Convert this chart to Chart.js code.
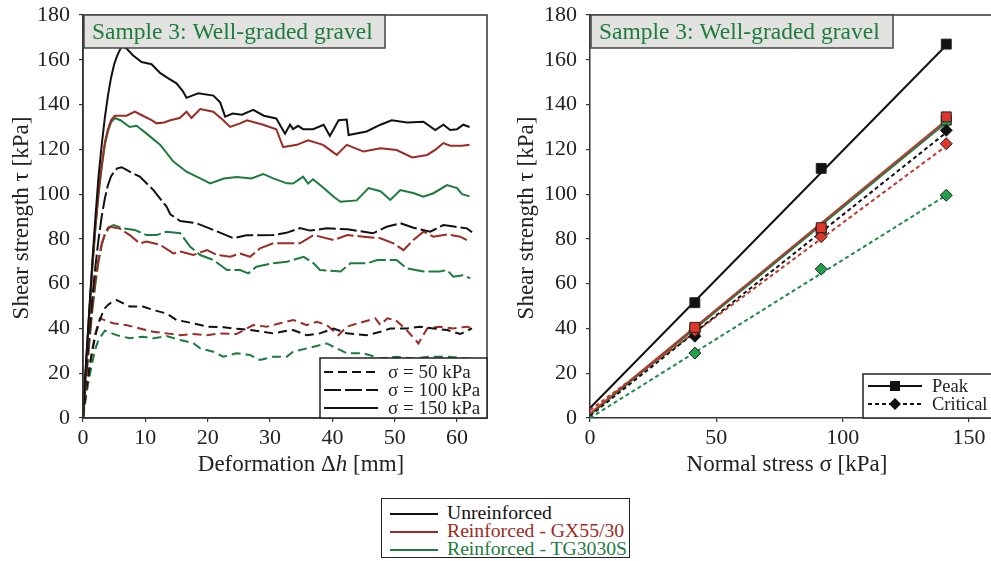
<!DOCTYPE html>
<html>
<head>
<meta charset="utf-8">
<script src="https://cdn.jsdelivr.net/npm/chart.js@4.4.0/dist/chart.umd.min.js"></script>
<style>
  body { margin: 0; background: #fff; width: 991px; height: 561px; overflow: hidden; position: relative; font-family: "Liberation Serif", serif; }
  #left { position: absolute; left: 0; top: 0; }
  #right { position: absolute; left: 500px; top: 0; }
  #legend { position: absolute; left: 381px; top: 498px; width: 249px; height: 60px; border: 1.5px solid #222; font-size: 19.7px; line-height: 18px; padding-top: 4px; box-sizing: border-box; }
  #legend div { height: 18px; white-space: nowrap; }
  #legend span.ln { display: inline-block; width: 48px; height: 2px; margin: 0 9px 0 8px; vertical-align: middle; }
</style>
</head>
<body>
<canvas id="left" width="495" height="490"></canvas>
<canvas id="right" width="491" height="490"></canvas>
<div id="legend">
  <div><span class="ln" style="background:#111"></span><span style="color:#111">Unreinforced</span></div>
  <div><span class="ln" style="background:#9e2a24"></span><span style="color:#9e2a24">Reinforced - GX55/30</span></div>
  <div><span class="ln" style="background:#1e7b3e"></span><span style="color:#1e7b3e">Reinforced - TG3030S</span></div>
</div>
<script>
// ---- left chart: shear strength vs deformation ----
const unr150X = [0,0.5,1,1.5,2,2.5,3,3.5,4,4.5,5,5.5,6.2,7,8,9.4,11,12.4,13.5,15,16,16.6,17.5,18.5,20.9,22,22.8,24,25.5,27.3,29,31,32.4,33.2,33.7,34.5,35.3,36.9,38.6,39.6,41,42.3,42.6,45.5,47.7,49.5,52,54.6,56.5,57.8,58.9,60,61,62];
const unr150Y = [0,25,48,70,90,108,122,134,144,152,158,162,166,165,162,159,158,154,152,149.5,146,143,144,145,144,141,134.6,136,135.5,137.6,135,133.8,127,131,129,130.5,129,129,131,126,133,133.3,126.4,128,131,133,132,132.3,128.6,131,128.6,129,131,130];
const gx150X = [0,0.5,1,1.5,2,2.5,3,3.5,4,4.5,5.1,6,7,8.3,9.6,11,11.8,13,14,15.5,16.6,17.4,18.8,20.9,22.5,23.6,25.2,26.3,28.9,31,32.1,34.3,36.1,38.5,40.7,42.3,45,47.7,50.3,52.8,55.2,56.6,57.8,58.9,60.8,62];
const gx150Y = [0,25,47,68,86,101,113,123,129,133,135,135,135,136.8,135,133,131.6,132,133,134,136.8,134,138,136.8,133,130,131.6,133,131,129,121,122,124,122,117.5,122,119,120.5,119.7,116.4,117.5,120,122.8,121.6,121.6,122];
const tg150X = [0,0.5,1,1.5,2,2.5,3,3.5,4,4.5,5.1,6,7.5,8.6,10.2,12.4,14.5,16.6,18.8,20.4,22.6,24.7,27,28.9,30.5,32.7,33.7,35.3,36.1,36.9,38.6,40.2,41.3,43.9,45.8,47.7,49.3,50.9,53.1,54.6,56.2,58.4,60,60.8,62];
const tg150Y = [0,24,46,67,85,100,112,122,128,132,134,133,130,130.5,127,122,114.5,110,107,104.8,107,107.6,107,109,107,104.8,104.7,107.8,104.7,106.6,102.7,98.8,96.6,97.2,102.7,101.3,97.4,101.8,100.4,98.8,100.4,104,102.7,100,99];

const unr100X = [0,0.5,1,1.5,2,2.5,3,3.5,4,4.5,5,5.5,6.2,7.5,9.1,11.3,13.4,14,15.6,18.2,20.9,24.1,26.2,30.5,32.6,34.8,36.4,39.1,42.4,46.5,48.7,50.9,53,55.7,57.8,59.5,61.6,62.4];
const unr100Y = [0,20,38,54,68,80,90,98,104,108,110,111.5,112,110,107.8,101.8,94.4,91,88,87,84,80.3,81.6,81.7,82.7,84.8,83.7,84.7,84.3,82.5,85.4,87,85,83.2,86.2,85.5,84.7,83];
const gx100X = [0,0.5,1,1.5,2,2.5,3,3.5,4.3,5.9,7.5,9.1,10.2,12.4,14.5,15.6,17.7,19.9,21.5,23.6,25.2,26.8,28.4,30.5,32.6,34.8,37,40.2,42.4,45,47.7,49.8,51.4,53,54.6,56.2,58.4,60.5,62.1];
const gx100Y = [0,18,35,50,62,71,78,82,85.4,84.6,81.7,78,78.8,77.3,73.5,74.3,72.8,75,72.8,72,73.5,72,75.8,78,78,78,81.7,79.5,81.7,81,80.3,78,75,79.5,83.2,81,82,81,78.7];
const tg100X = [0,0.5,1,1.5,2,2.5,3,3.5,4,4.9,6.6,8.3,10.2,11.8,13.4,15.6,17.2,18.8,20.9,23.1,25.2,26.5,27.8,30.5,32.7,33.7,35.4,37,38,41.3,42.9,45.6,47.2,50.3,51.9,54.6,57.2,58.4,59.4,61,62.1];
const tg100Y = [0,17,33,48,60,70,77,82,85,86.2,84.6,84,81.7,81.7,83.2,82.5,76.5,72.8,70.6,66.1,66.1,64.6,67.6,69.1,69.8,70.6,72,69.1,66.1,65.4,69.1,69.1,70.6,70.6,66.9,65.4,65.4,66.1,63.1,63.8,62.4];

const unr50X = [0,0.5,1,1.5,2,2.5,3,3.5,4,4.5,5.4,7.5,9.6,11.3,13.4,15,17.7,19.9,22.6,25.2,26.8,28.9,30.5,32.7,33.7,35.9,38,40.2,42.3,45.5,47.7,49.3,51.9,54,56.2,58.4,60.5,62.4];
const unr50Y = [0,12,22,30,37,42,46,49,50.5,51.5,52.7,49.8,49.8,48.2,46.7,43.8,42.3,40.8,40.5,39.7,39.3,38.5,37.8,39,39.3,37,37.8,40,37.8,37,38.5,40,40,40.8,40,39.3,37.5,40];
const gx50X = [0,0.5,1,1.5,2,2.7,4.8,6.9,9.1,11.3,13.4,15.6,17.7,19.9,22,24.6,27.3,29.5,31.6,33.7,35.9,37.5,39.1,41,42.3,45,46.9,47.7,48.8,50.1,51.9,53.8,55.2,57.2,59.4,61.6,62.4];
const gx50Y = [0,12,22,31,38,44.5,42.3,41.5,40,38.5,37.8,37,37.5,37,37.8,37.5,41.5,40.8,42.3,43.8,41.5,43,41.5,37,40.8,43,44.5,41.5,44.5,43.8,39.3,33.3,40,40.8,40,40.8,40];
const tg50X = [0,0.5,1,1.5,2,2.5,3.5,5.4,7.5,9.6,11.3,13.4,15.6,17.7,18.8,20.9,22.5,24.6,26.8,28.4,30.5,32.7,33.7,35.9,39.1,40.7,42.3,45,47.7,50.3,53,55.7,58.4,61.6,62.4];
const tg50Y = [0,10,18,25,31,35,39,37,35.6,36.3,35.6,36.6,34.8,33.4,31.1,29.6,27.4,28.9,28.1,25.9,27.4,27.4,29.6,31.1,33.3,31.1,28.9,28.9,26.6,27.4,26.6,27.4,27.4,26.6,26.5];

const sigmaLabels = ["σ = 50 kPa", "σ = 100 kPa", "σ = 150 kPa"];

// ---- right chart: failure envelopes ----
const normalStress = [41.5, 91.5, 141];
const peakUnr = [51.5, 111.5, 167];
const critUnr = [36.5, 84.5, 128.5];
const peakGX = [40.5, 85, 134.5];
const critGX = [39, 81, 122.5];
const peakTG = [39.5, 84, 133];
const critTG = [29, 66.5, 99.5];
// fitted envelope ends, read at sigma = 0 and 141
const fitX = [0, 141];
const peakUnrFit = [4.5, 166.5];
const critUnrFit = [1, 127.5];
const peakGXFit = [2, 133];
const critGXFit = [3.5, 121.5];
const peakTGFit = [1.5, 132];
const critTGFit = [0, 99.5];

const BLACK = "#111", RED = "#9e2a24", GREEN = "#1e7b3e";
const RED_MK = "#e0352b", GREEN_MK = "#22a04c";
const DASH50 = [9, 5], DASH100 = [17, 4], DASH_CRIT = [4, 3];
const FONT = '"Liberation Serif", serif';

function pts(xs, ys) { return xs.map((x, i) => ({ x: x, y: ys[i] })); }

function curve(xs, ys, color, dash) {
  return { data: pts(xs, ys), showLine: true, borderColor: color, borderWidth: 2,
    borderDash: dash, pointRadius: 0, tension: 0, fill: false };
}

function markers(ys, color, style, r) {
  return { data: pts(normalStress, ys), showLine: false, pointStyle: style, pointRadius: r,
    pointBackgroundColor: color, pointBorderColor: "#222", pointBorderWidth: 1 };
}

function axis(min, max, step, fitSize, isY, pad) {
  return {
    type: "linear", min: min, max: max,
    border: { color: "#333", width: 1.5 },
    grid: { drawOnChartArea: false, tickLength: 4, color: "#333", lineWidth: 1.2 },
    ticks: { stepSize: step, includeBounds: false, padding: pad, color: "#222", font: { family: FONT, size: 22 } },
    afterFit(scale) {
      if (isY) { scale.width = fitSize; scale.paddingTop = 0; scale.paddingBottom = 0; }
      else { scale.height = fitSize; scale.paddingLeft = 0; scale.paddingRight = 0; }
    }
  };
}

function textBox(ctx, x, y, w, h) {
  ctx.save();
  ctx.fillStyle = "#e2e2e0";
  ctx.fillRect(x, y, w, h);
  ctx.strokeStyle = "#444";
  ctx.lineWidth = 1.5;
  ctx.strokeRect(x, y, w, h);
  ctx.fillStyle = GREEN;
  ctx.font = "23.5px " + FONT;
  ctx.textBaseline = "middle";
  ctx.fillText("Sample 3: Well-graded gravel", x + 8, y + h / 2 + 1);
  ctx.restore();
}

function yTitle(ctx, x, y, text) {
  ctx.save();
  ctx.translate(x, y);
  ctx.rotate(-Math.PI / 2);
  ctx.font = "23px " + FONT;
  ctx.fillStyle = "#222";
  ctx.textAlign = "center";
  ctx.textBaseline = "middle";
  ctx.fillText(text, 0, 0);
  ctx.restore();
}

function xTitle(ctx, cx, y, parts) {
  ctx.save();
  ctx.fillStyle = "#222";
  ctx.textBaseline = "middle";
  let total = 0;
  parts.forEach(p => { ctx.font = (p[1] ? "italic " : "") + "23px " + FONT; total += ctx.measureText(p[0]).width; });
  let x = cx - total / 2;
  parts.forEach(p => {
    ctx.font = (p[1] ? "italic " : "") + "23px " + FONT;
    ctx.fillText(p[0], x, y);
    x += ctx.measureText(p[0]).width;
  });
  ctx.restore();
}

const leftDecor = {
  id: "leftDecor",
  afterDraw(chart) {
    const ctx = chart.ctx, a = chart.chartArea;
    ctx.save();
    ctx.strokeStyle = "#333";
    ctx.lineWidth = 1.5;
    ctx.strokeRect(a.left, a.top, a.right - a.left, a.bottom - a.top);
    ctx.restore();
    textBox(ctx, a.left + 1, a.top, 301, 33);
    // sigma legend
    const bx = 320, by = 358, bw = a.right - 320, bh = a.bottom - 358;
    ctx.save();
    ctx.fillStyle = "#fff";
    ctx.fillRect(bx, by, bw, bh);
    ctx.strokeStyle = "#222";
    ctx.lineWidth = 1.5;
    ctx.strokeRect(bx, by, bw, bh);
    const dashes = [DASH50, DASH100, []];
    sigmaLabels.forEach((lbl, i) => {
      const yy = 372 + i * 18;
      ctx.strokeStyle = BLACK;
      ctx.lineWidth = 2;
      ctx.setLineDash(dashes[i]);
      ctx.beginPath(); ctx.moveTo(324, yy); ctx.lineTo(378, yy); ctx.stroke();
      ctx.setLineDash([]);
      ctx.fillStyle = "#222";
      ctx.font = "19px " + FONT;
      ctx.textBaseline = "middle";
      ctx.fillText(lbl, 388, yy + 1);
    });
    ctx.restore();
    yTitle(ctx, 22, 218, "Shear strength τ [kPa]");
    xTitle(ctx, 301, 465, [["Deformation Δ", false], ["h", true], [" [mm]", false]]);
  }
};

const rightDecor = {
  id: "rightDecor",
  afterDraw(chart) {
    const ctx = chart.ctx, a = chart.chartArea;
    ctx.save();
    ctx.strokeStyle = "#333";
    ctx.lineWidth = 1.5;
    ctx.beginPath(); ctx.moveTo(a.left, a.top); ctx.lineTo(a.right, a.top); ctx.stroke();
    ctx.restore();
    textBox(ctx, a.left + 1, a.top, 302, 33);
    // peak / critical legend
    const bx = 363, by = 374;
    ctx.save();
    ctx.fillStyle = "#fff";
    ctx.fillRect(bx, by, a.right - bx, a.bottom - by);
    ctx.strokeStyle = "#222";
    ctx.lineWidth = 1.5;
    ctx.strokeRect(bx, by, a.right - bx + 2, a.bottom - by);
    [["Peak", [], "rect"], ["Critical", DASH_CRIT, "rectRot"]].forEach((e, i) => {
      const yy = 386 + i * 18;
      ctx.strokeStyle = BLACK;
      ctx.lineWidth = 2;
      ctx.setLineDash(e[1]);
      ctx.beginPath(); ctx.moveTo(368, yy); ctx.lineTo(422, yy); ctx.stroke();
      ctx.setLineDash([]);
      ctx.fillStyle = BLACK;
      ctx.beginPath();
      if (e[2] === "rect") ctx.rect(390, yy - 5, 10, 10);
      else { ctx.moveTo(395, yy - 6); ctx.lineTo(401, yy); ctx.lineTo(395, yy + 6); ctx.lineTo(389, yy); ctx.closePath(); }
      ctx.fill();
      ctx.fillStyle = "#222";
      ctx.font = "18.5px " + FONT;
      ctx.textBaseline = "middle";
      ctx.fillText(e[0], 432, yy + 1);
    });
    ctx.restore();
    yTitle(ctx, 27, 218, "Shear strength τ [kPa]");
    xTitle(ctx, 287, 465, [["Normal stress σ [kPa]", false]]);
  }
};

const common = {
  responsive: false, animation: false,
  plugins: { legend: { display: false }, tooltip: { enabled: false } },
  elements: { line: { tension: 0 } }
};

new Chart(document.getElementById("left"), {
  type: "scatter",
  data: { datasets: [
    curve(unr150X, unr150Y, BLACK, []),
    curve(gx150X, gx150Y, RED, []),
    curve(tg150X, tg150Y, GREEN, []),
    curve(unr100X, unr100Y, BLACK, DASH100),
    curve(gx100X, gx100Y, RED, DASH100),
    curve(tg100X, tg100Y, GREEN, DASH100),
    curve(unr50X, unr50Y, BLACK, DASH50),
    curve(gx50X, gx50Y, RED, DASH50),
    curve(tg50X, tg50Y, GREEN, DASH50)
  ] },
  options: Object.assign({}, common, {
    layout: { autoPadding: false, padding: { left: 0, top: 15, right: 8, bottom: 0 } },
    scales: { x: axis(0, 64.8, 10, 72, false, 3), y: axis(0, 180, 20, 83, true, 9) }
  }),
  plugins: [leftDecor]
});

new Chart(document.getElementById("right"), {
  type: "scatter",
  data: { datasets: [
    markers(peakGX, RED_MK, "rect", 7),
    markers(critGX, RED_MK, "rectRot", 6),
    markers(critUnr, BLACK, "rectRot", 6),
    markers(peakUnr, BLACK, "rect", 7),
    markers(critTG, GREEN_MK, "rectRot", 6),
    markers(peakTG, GREEN_MK, "rect", 7),
    curve(fitX, peakGXFit, "#b03a2e", []),
    curve(fitX, critUnrFit, BLACK, DASH_CRIT),
    curve(fitX, critGXFit, "#c0392b", DASH_CRIT),
    curve(fitX, critTGFit, "#1e8a45", DASH_CRIT),
    curve(fitX, peakUnrFit, BLACK, []),
    curve(fitX, peakTGFit, GREEN, [])
  ] },
  options: Object.assign({}, common, {
    layout: { autoPadding: false, padding: { left: 0, top: 15, right: 0, bottom: 0 } },
    scales: { x: axis(0, 158.7, 50, 72, false, 3), y: axis(0, 180, 20, 90, true, 9) }
  }),
  plugins: [rightDecor]
});
</script>
</body>
</html>
